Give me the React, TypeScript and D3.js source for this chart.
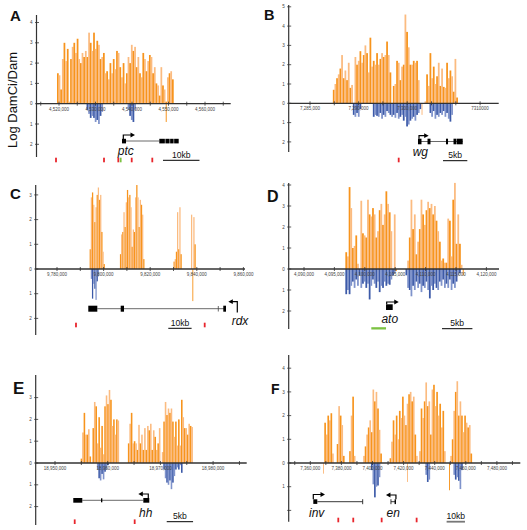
import React from "react";
import * as d3 from "d3";

const FONT = "'Liberation Sans', Arial, Helvetica, sans-serif";
const ORANGE = "#f7941d";
const PEACH = "#fbbb80";
const BLUE = "#3c5aa8";
const BLUE_L = "#7f93cb";
const RED = "#e8262d";
const GREEN = "#7cc242";
const AXIS = "#333";

type Seg = [number, number[]];
type Pt = [number, number];

// ---------------- Panel A (ptc) ----------------
const aStart = 4519450;
const aBin = 450;
const aPos = [1.5, 1.4, 0.7, 2.2, 3.0, 2.1, 2.7, 0.1, 2.2, 2.8, 3.0, 2.5, 3.2, 2.2, 2.0, 2.5, 2.3, 2.6, 2.3, 3.5, 3.0, 2.6, 3.5, 2.7, 3.1, 2.9, 2.2, 2.3, 2.5, 1.5, 1.6, 1.2, 2.0, 1.5, 2.2, 1.7, 2.6, 2.5, 1.8, 1.3, 2.0, 1.0, 1.5, 2.3, 2.0, 2.9, 2.6, 2.8, 1.8, 2.3, 1.5, 1.3, 2.5, 2.2, 1.6, 2.1, 2.4, 2.3, 1.5, 1.8, 1.0, 0.9, 0.4, 1.8, 0.9, 0.7, 0.1, 1.3, 1.5, 1.6, 1.2];
const aNeg: Seg[] = [[18, [0.3, 0.5, 0.7, 0.6, 0.7, 0.9, 0.8, 1.0, 0.6, 0.4]], [43, [0.3, 0.6, 0.8, 0.9, 0.3]]];
const aDown: Pt[] = [[66, 0.9]];
const aXLabelVals = [4520000, 4530000, 4540000, 4550000, 4560000];
const aXLabels = ["4,520,000", "4,530,000", "4,540,000", "4,550,000", "4,560,000"];
const aYTicks = [4, 3, 2, 1, 0, -1, -2];
const aExons: Pt[] = [[4537260, 4538360], [4547480, 4549000], [4549150, 4550300], [4550450, 4551400], [4551550, 4552790]];
const aSites = [4519180, 4532330, 4536250, 4539920, 4545560];
const aGreenSites = [4536900];

// ---------------- Panel B (wg) ----------------
const bStart = 7289700;
const bBin = 343;
const bPos = [0.7, 1.0, 1.3, 1.5, 1.8, 2.5, 1.3, 1.7, 1.2, 2.1, 0.8, 0.95, 0, 2.4, 2.0, 2.2, 2.7, 2.1, 2.5, 3.0, 2.6, 1.6, 3.4, 1.9, 2.2, 2.0, 2.6, 2.0, 2.3, 2.6, 2.4, 2.5, 3.2, 2.5, 1.6, 0, 0.9, 1.0, 2.2, 2.1, 1.2, 1.9, 2.0, 4.6, 3.7, 2.9, 2.0, 2.0, 2.2, 2.1, 2.2, 1.2, 0, 0, 0, 0.1, 1.5, 0.9, 2.6, 1.3, 1.9, 1.0, 1.4, 2.1, 0.9, 1.8, 0.85, 0.8, 2.1, 1.3, 1.7, 1.4, 0.6, 2.3, 0.3];
const bNeg: Seg[] = [
  [12, [0.6, 0.7, 0.5, 0.7, 0.3]],
  [24, [0.7, 0.6, 0.65, 0.7, 0.5, 0.8, 0.6, 0.7, 0.4, 0.5, 0.6, 0.7, 0.6, 0.75, 0.5, 0.8, 0.7, 0.6, 0.9, 0.7, 1.2, 1.1, 0.9, 0.8, 0.7, 0.9, 0.6, 0.5, 0.3]],
  [58, [0.5, 0.7, 0.4, 0.8, 0.6, 0.7, 0.5, 0.6, 0.4, 0.7, 0.5, 0.8, 0.95, 0.6]],
];
const bDown: Pt[] = [[53, 0.6]];
const bXLabelVals = [7285000, 7295000, 7305000, 7320000];
const bXLabels = ["7,285,000", "7,290,000", "7,300,000", "7310000"];
const bYTicks = [5, 4, 3, 2, 1, 0, -1, -2];
const bExons: Pt[] = [[7307220, 7307940], [7309180, 7309790], [7312980, 7313400], [7314530, 7315040], [7315140, 7316420]];
const bSites = [7303250];

// ---------------- Panel C (rdx) ----------------
const cStart = 9794000;
const cBin = 500;
const cPos = [
  0.8, 2.9, 3.1, 2.6, 1.9, 2.5, 3.0, 3.3, 2.8, 3.0, 1.5, 0.7, 0.2,
  0, 0, 0, 0, 0, 0, 0, 0, 0, 0, 0, 0, 0,
  0.6, 1.4, 1.5, 2.3, 1.7, 2.7, 3.2, 2.9, 3.0, 2.5, 0.9, 1.6, 1.5, 2.9, 3.4, 2.9, 1.7, 2.8, 2.6, 2.2, 0.4,
  0, 0, 0, 0, 0, 0, 0, 0, 0, 0, 0, 0, 0, 0, 0, 0, 0, 0, 0, 0, 0, 0, 0, 0, 0,
  0.3, 0.4, 0.7, 2.3, 0.8, 2.5, 0.6,
  0, 0, 0, 0, 0, 0, 0, 0,
  2.2, 0, 2.1, 1.0,
];
const cNeg: Seg[] = [[1, [0.4, 1.2, 0.6, 0.8, 1.25, 0.5, 0.3]]];
const cDown: Pt[] = [[88, 1.3]];
const cXLabelVals = [9780000, 9800000, 9820000, 9840000, 9860000];
const cXLabels = ["9,780,000", "9,800,000", "9,820,000", "9,840,000", "9,860,000"];
const cYTicks = [3, 2, 1, 0, -1, -2];
const cExons: Pt[] = [[9793430, 9797300], [9807340, 9808760], [9851370, 9852530]];
const cSites = [9788150, 9843390];

// ---------------- Panel D (ato) ----------------
const dStart = 4096800;
const dBin = 275;
const dPos = [
  0.8, 0.6, 3.9, 2.9, 1.0, 1.1, 1.6, 0.25, 0, 3.25,
  1.7, 1.6, 1.5, 3.3, 2.6, 2.5, 2.9, 2.6, 1.5, 1.8,
  2.8, 3.1, 2.1, 2.6, 3.7, 3.1, 2.7, 1.8, 0, 2.6,
  0, 0, 0, 0, 0, 0, 0, 0.4, 1.5, 3.3,
  1.9, 2.6, 0.7, 1.3, 1.9, 3.3, 2.6, 2.1, 2.8, 3.2,
  2.9, 3.1, 2.6, 3.0, 2.3, 1.8, 1.3, 0.4, 0.5, 0.3,
  0.3, 2.4, 2.3, 0.6, 3.3, 4.1, 1.2, 2.6, 1.2, 0.2, 0,
];
const dNeg: Seg[] = [
  [0, [1.2, 1.0, 1.2, 0.8, 0.6, 0.9, 0.5, 0.8, 0.3, 0.9, 0.7, 0.6, 0.9, 0.7, 1.45, 0.8, 0.5, 0.7, 0.9, 0.6, 1.1, 0.8, 0.9, 0.6, 0.8, 0.7, 0.75, 0.5, 0.3, 0.2]],
  [36, [0.3, 0.9, 1.0, 1.3, 0.8, 1.0, 0.6, 0.9, 0.7, 1.1, 0.8, 0.9, 0.6, 1.0, 1.4, 0.8, 1.0, 0.7, 0.9, 1.0, 0.6, 0.8, 0.5, 0.9, 0.7, 0.9, 0.5, 1.0, 0.7, 0.9, 0.6, 0.3, 0.2]],
];
const dDown: Pt[] = [[30, 0.1], [70, 0.3]];
const dXLabelVals = [4090000, 4095000, 4100000, 4105000, 4110000, 4115000, 4120000];
const dXLabels = ["4,090,000", "4,095,000", "4,100,000", "4,105,000", "4,110,000", "4,115,000", "4,120,000"];
const dYTicks = [4, 3, 2, 1, 0, -1, -2];
const dExons: Pt[] = [[4103490, 4104590]];
const dEnhancer: Pt = [4101070, 4103490];

// ---------------- Panel E (hh) ----------------
const eStart = 18954870;
const eBin = 280;
const ePos = [
  0.2, 1.4, 2.3, 1.3, 1.3, 1.55, 0.3, 0, 1.6, 2.8,
  2.6, 0.9, 2.1, 0.7, 1.7, 0.4, 2.6, 3.1, 2.7, 3.35,
  2.9, 1.7, 2.0, 1.3, 2.0, 1.95, 0, 0, 0, 0,
  0, 0, 0.9, 1.8, 2.3, 0.9, 1.0, 0.9, 0.6, 1.75,
  0.9, 1.3, 0.6, 1.6, 0.6, 1.7, 1.5, 1.8, 0.6, 1.5,
  1.2, 0.6, 0.9, 1.6, 0, 0.5, 1.9, 2.8, 2.2, 2.5,
  2.3, 2.5, 1.9, 1.2, 1.9, 0.8, 2.0, 0.8, 2.9, 2.1,
  1.6, 1.6, 1.3, 1.8, 1.7, 1.65,
];
const eNeg: Seg[] = [[11, [0.3, 0.7, 0.8, 0.5, 0.75, 0.4, 0.3, 0.1]], [56, [0.3, 0.7, 0.9, 1.0, 0.8, 1.2, 0.9, 0.6, 0.3, 0.2, 0.3, 0.1, 0.45]]];
const eDown: Pt[] = [];
const eXLabelVals = [18950000, 18960000, 18970000, 18980000];
const eXLabels = ["18,950,000", "18,960,000", "18,970,000", "18,980,000"];
const eYTicks = [3, 2, 1, 0, -1, -2];
const eExons: Pt[] = [[18953470, 18955180], [18958730, 18958980], [18966760, 18967890]];
const eSites = [18953740, 18965120];

// ---------------- Panel F (inv / en) ----------------
const fStart = 7367000;
const fBin = 1000;
const fPos = [
  0, 0, 1.7, 1.2, 2.0, 1.8, 2.1, 0.4, 0, 0,
  0.8, 2.4, 2.0, 1.6, 0.3, 0, 0, 0, 0.5, 2.0,
  2.8, 0.3, 0, 0, 0, 0, 0, 0.3, 0.7, 1.2,
  1.5, 1.8, 1.3, 3.1, 2.6, 3.0, 2.3, 1.4, 0.4, 0,
  0, 0, 0, 0, 0.2, 0.9, 1.8, 1.2, 2.0, 1.0,
  2.2, 1.9, 2.8, 2.0, 1.6, 2.5, 2.9, 3.0, 2.6, 2.8,
  1.2, 0.3, 0, 0.5, 2.3, 1.9, 2.6, 3.4, 2.4, 2.6,
  1.2, 3.1, 3.3, 2.4, 3.0, 2.0, 2.5, 1.5, 2.2, 0.5,
  0, 0, 0, 0.3, 1.0, 2.2, 3.0, 3.45, 2.0, 2.6,
  2.0, 1.3, 2.0, 1.7, 1.5, 1.6, 0.4,
];
const fNeg: Seg[] = [[32, [0.3, 0.9, 1.45, 1.0, 0.95, 0.6]], [67, [0.5, 0.8, 0.7]], [85, [0.5, 0.7, 0.6, 0.75, 1.1, 0.3]]];
const fDown: Pt[] = [[1, 0.45], [55, 0.8], [82, 1.15]];
const fXLabelVals = [7360000, 7380000, 7400000, 7420000, 7440000, 7460000, 7480000];
const fXLabels = ["7,360,000", "7,380,000", "7,400,000", "7,420,000", "7,440,000", "7,460,000", "7,480,000"];
const fYTicks = [4, 3, 2, 1, 0, -1, -2];
const fYHidden = [-2];
const fInvExon: Pt = [7361930, 7364500];
const fEnSpan: Pt = [7411860, 7415080];
const fSites = [7378000, 7387630, 7405890, 7428380];

interface PanelSpec {
  letter: string;
  letterX: number;
  letterY: number;
  letterSize: number;
  axisX: number;
  xLeft: number;
  xRight: number;
  yTop: number;
  yBottom: number;
  zeroY: number;
  unit: number;
  xDom: [number, number];
  xRng: [number, number];
  start: number;
  bin: number;
  pos: number[];
  neg: Seg[];
  down: Pt[];
  minor: number[];
  labelVals: number[];
  labels: string[];
  yTicks: number[];
  yHidden?: number[];
  extras: (xs: d3.ScaleLinear<number, number>) => React.ReactNode;
}

function Tss({ x0, x1, yb, yt }: { x0: number; x1: number; yb: number; yt: number }) {
  const dir = x1 > x0 ? 1 : -1;
  return (
    <g>
      <path d={`M${x0},${yb}V${yt}H${x1 - dir * 3}`} stroke="#000" strokeWidth={1.2} fill="none" />
      <path d={`M${x1},${yt}L${x1 - dir * 4.5},${yt - 2.4}L${x1 - dir * 4.5},${yt + 2.4}Z`} fill="#000" />
    </g>
  );
}

function Sites({ xs, vals, y, color }: { xs: d3.ScaleLinear<number, number>; vals: number[]; y: number; color: string }) {
  return (
    <g>
      {vals.map((v, i) => (
        <rect key={i} x={xs(v) - 0.9} y={y - 2.3} width={1.8} height={4.6} fill={color} />
      ))}
    </g>
  );
}

function ScaleBar({ xs, start, len, y, label, color = "#000", w = 1 }: { xs: d3.ScaleLinear<number, number>; start: number; len: number; y: number; label: string; color?: string; w?: number }) {
  const x0 = xs(start);
  const x1 = xs(start + len);
  return (
    <g>
      <line x1={x0} x2={x1} y1={y} y2={y} stroke={color} strokeWidth={w} />
      <text x={(x0 + x1) / 2} y={y - 2.6} fontSize={8.6} textAnchor="middle" fontFamily={FONT} fill="#111">
        {label}
      </text>
    </g>
  );
}

function GeneLabel({ x, y, text }: { x: number; y: number; text: string }) {
  return (
    <text x={x} y={y} fontSize={12} fontStyle="italic" textAnchor="middle" fontFamily={FONT} fill="#111">
      {text}
    </text>
  );
}

function Panel({ p }: { p: PanelSpec }) {
  const xs = d3.scaleLinear().domain(p.xDom).range(p.xRng);
  const ys = d3.scaleLinear().domain([0, 1]).range([p.zeroY, p.zeroY - p.unit]);
  const bw = xs(p.start + p.bin) - xs(p.start);
  const bars: React.ReactNode[] = [];
  p.neg.forEach(([s, vals]) =>
    vals.forEach((v, j) => {
      const i = s + j;
      if (v <= 0) return;
      bars.push(
        <rect key={`n${i}`} x={xs(p.start + i * p.bin)} y={ys(0)} width={bw + 0.1} height={ys(-v) - ys(0)} fill={i % 2 ? BLUE_L : BLUE} />
      );
    })
  );
  p.pos.forEach((v, i) => {
    if (v <= 0) return;
    bars.push(
      <rect key={`p${i}`} x={xs(p.start + i * p.bin)} y={ys(v)} width={bw + 0.1} height={ys(0) - ys(v)} fill={i % 2 ? PEACH : ORANGE} />
    );
  });
  p.down.forEach(([i, v]) => {
    bars.push(
      <rect key={`d${i}`} x={xs(p.start + i * p.bin) + bw * 0.2} y={ys(0)} width={Math.max(bw * 0.6, 0.9)} height={ys(-v) - ys(0)} fill={i % 2 ? PEACH : ORANGE} />
    );
  });
  const hidden = p.yHidden || [];
  return (
    <g>
      <text x={p.letterX} y={p.letterY} fontSize={p.letterSize} fontWeight="bold" fontFamily={FONT} fill="#111">
        {p.letter}
      </text>
      {bars}
      {/* y axis */}
      <line x1={p.axisX} x2={p.axisX} y1={p.yTop} y2={p.yBottom} stroke={AXIS} strokeWidth={1.2} />
      {p.yTicks.map((t) => (
        <g key={`yt${t}`}>
          <line x1={p.axisX - 1.5} x2={p.axisX + 2.5} y1={ys(t)} y2={ys(t)} stroke={AXIS} strokeWidth={0.8} />
          {hidden.includes(t) ? null : (
            <text x={p.axisX - 4} y={ys(t) + 1.6} fontSize={4.6} textAnchor="end" fontFamily={FONT} fill="#444">
              {Math.abs(t)}
            </text>
          )}
        </g>
      ))}
      {/* x axis */}
      <line x1={p.xLeft} x2={p.xRight} y1={p.zeroY} y2={p.zeroY} stroke={AXIS} strokeWidth={1.3} />
      {p.minor.map((t) => (
        <line key={`xm${t}`} x1={xs(t)} x2={xs(t)} y1={p.zeroY - 2} y2={p.zeroY + 2} stroke={AXIS} strokeWidth={0.8} />
      ))}
      {p.labelVals.map((t, i) => (
        <text key={`xl${t}`} x={xs(t)} y={p.zeroY + 6.8} fontSize={4.5} textAnchor="middle" fontFamily={FONT} fill="#444">
          {p.labels[i]}
        </text>
      ))}
      {p.extras(xs)}
    </g>
  );
}

const panels: PanelSpec[] = [
  {
    letter: "A", letterX: 10, letterY: 20.7, letterSize: 15,
    axisX: 36.5, xLeft: 36.5, xRight: 230.7, yTop: 15, yBottom: 157, zeroY: 103.7, unit: 20.3,
    xDom: [4520000, 4530000], xRng: [59, 95.5],
    start: aStart, bin: aBin, pos: aPos, neg: aNeg, down: aDown,
    minor: d3.range(4515000, 4566000, 5000), labelVals: aXLabelVals, labels: aXLabels, yTicks: aYTicks,
    extras: (xs) => (
      <g>
        <line x1={xs(4538360)} x2={xs(4547480)} y1={141} y2={141} stroke="#444" strokeWidth={0.8} />
        {aExons.map(([s, e], i) => (
          <rect key={i} x={xs(s)} y={138.8} width={xs(e) - xs(s)} height={4.6} fill="#000" />
        ))}
        <Tss x0={xs(4537620)} x1={xs(4540820)} yb={139} yt={135} />
        <GeneLabel x={xs(4538300)} y={155} text="ptc" />
        <Sites xs={xs} vals={aSites} y={160} color={RED} />
        <Sites xs={xs} vals={aGreenSites} y={160} color={GREEN} />
        <ScaleBar xs={xs} start={4548490} len={10000} y={160.3} label="10kb" />
      </g>
    ),
  },
  {
    letter: "B", letterX: 264, letterY: 20, letterSize: 14.5,
    axisX: 288.7, xLeft: 288.7, xRight: 498.7, yTop: 5, yBottom: 152, zeroY: 103.3, unit: 19.3,
    xDom: [7285000, 7290000], xRng: [310, 334.3],
    start: bStart, bin: bBin, pos: bPos, neg: bNeg, down: bDown,
    minor: d3.range(7285000, 7321000, 5000), labelVals: bXLabelVals, labels: bXLabels, yTicks: bYTicks,
    extras: (xs) => (
      <g>
        <line x1={xs(7307220)} x2={xs(7316420)} y1={141.5} y2={141.5} stroke="#444" strokeWidth={0.8} />
        {bExons.map(([s, e], i) => (
          <rect key={i} x={xs(s)} y={138.7} width={xs(e) - xs(s)} height={5.6} fill="#000" />
        ))}
        <Tss x0={xs(7307430)} x1={xs(7309420)} yb={138.7} yt={135.7} />
        <GeneLabel x={xs(7307700)} y={156} text="wg" />
        <Sites xs={xs} vals={bSites} y={160} color={RED} />
        <ScaleBar xs={xs} start={7312370} len={5000} y={160.7} label="5kb" />
      </g>
    ),
  },
  {
    letter: "C", letterX: 10, letterY: 199, letterSize: 15,
    axisX: 35.7, xLeft: 35.7, xRight: 245, yTop: 185, yBottom: 335, zeroY: 269, unit: 24.7,
    xDom: [9780000, 9790000], xRng: [57, 80.3],
    start: cStart, bin: cBin, pos: cPos, neg: cNeg, down: cDown,
    minor: d3.range(9780000, 9861000, 10000), labelVals: cXLabelVals, labels: cXLabels, yTicks: cYTicks,
    extras: (xs) => (
      <g>
        <line x1={xs(9797300)} x2={xs(9852530)} y1={308.7} y2={308.7} stroke="#444" strokeWidth={0.8} />
        {cExons.map(([s, e], i) => (
          <rect key={i} x={xs(s)} y={305.7} width={xs(e) - xs(s)} height={6} fill="#000" />
        ))}
        <line x1={xs(9849230)} x2={xs(9849230)} y1={306} y2={311.5} stroke="#444" strokeWidth={0.8} />
        <Tss x0={xs(9857380)} x1={xs(9853520)} yb={312.5} yt={301.7} />
        <GeneLabel x={xs(9858540)} y={324.5} text="rdx" />
        <Sites xs={xs} vals={cSites} y={325} color={RED} />
        <ScaleBar xs={xs} start={9827770} len={10000} y={328.3} label="10kb" />
      </g>
    ),
  },
  {
    letter: "D", letterX: 267, letterY: 202, letterSize: 16,
    axisX: 288.7, xLeft: 288.7, xRight: 499, yTop: 183, yBottom: 329, zeroY: 269, unit: 21,
    xDom: [4090000, 4095000], xRng: [304, 334.4],
    start: dStart, bin: dBin, pos: dPos, neg: dNeg, down: dDown,
    minor: d3.range(4090000, 4121000, 5000), labelVals: dXLabelVals, labels: dXLabels, yTicks: dYTicks,
    extras: (xs) => (
      <g>
        {dExons.map(([s, e], i) => (
          <rect key={i} x={xs(s)} y={304.3} width={xs(e) - xs(s)} height={5.7} fill="#000" />
        ))}
        <Tss x0={xs(4103600)} x1={xs(4105580)} yb={304.3} yt={302} />
        <GeneLabel x={xs(4104100)} y={323} text="ato" />
        <rect x={xs(dEnhancer[0])} y={327.2} width={xs(dEnhancer[1]) - xs(dEnhancer[0])} height={2.3} fill={GREEN} />
        <ScaleBar xs={xs} start={4112700} len={5000} y={328.7} label="5kb" />
      </g>
    ),
  },
  {
    letter: "E", letterX: 13, letterY: 394.3, letterSize: 17,
    axisX: 35.7, xLeft: 35.7, xRight: 246.7, yTop: 375, yBottom: 525, zeroY: 463, unit: 21.8,
    xDom: [18950000, 18960000], xRng: [55, 107.7],
    start: eStart, bin: eBin, pos: ePos, neg: eNeg, down: eDown,
    minor: d3.range(18950000, 18986000, 5000), labelVals: eXLabelVals, labels: eXLabels, yTicks: eYTicks,
    extras: (xs) => (
      <g>
        <line x1={xs(18955180)} x2={xs(18966760)} y1={500.3} y2={500.3} stroke="#444" strokeWidth={0.8} />
        {eExons.map(([s, e], i) => (
          <rect key={i} x={xs(s)} y={i === 1 ? 498.3 : 498} width={xs(e) - xs(s)} height={i === 1 ? 4 : 4.7} fill="#000" />
        ))}
        <Tss x0={xs(18967700)} x1={xs(18965810)} yb={498} yt={494} />
        <GeneLabel x={xs(18967210)} y={517} text="hh" />
        <Sites xs={xs} vals={eSites} y={521.7} color={RED} />
        <ScaleBar xs={xs} start={18971200} len={5000} y={521.7} label="5kb" />
      </g>
    ),
  },
  {
    letter: "F", letterX: 271, letterY: 394, letterSize: 14,
    axisX: 288.7, xLeft: 288.7, xRight: 520.3, yTop: 355, yBottom: 521.7, zeroY: 463, unit: 23.7,
    xDom: [7360000, 7380000], xRng: [310.3, 341.4],
    start: fStart, bin: fBin, pos: fPos, neg: fNeg, down: fDown,
    minor: d3.range(7350000, 7491000, 10000), labelVals: fXLabelVals, labels: fXLabels, yTicks: fYTicks, yHidden: fYHidden,
    extras: (xs) => (
      <g>
        <rect x={xs(fInvExon[0])} y={499.3} width={xs(fInvExon[1]) - xs(fInvExon[0])} height={4.6} fill="#000" />
        <line x1={xs(fInvExon[1])} x2={xs(7393680)} y1={501.7} y2={501.7} stroke="#222" strokeWidth={0.9} />
        <line x1={xs(7393680)} x2={xs(7393680)} y1={499.2} y2={504.2} stroke="#222" strokeWidth={0.9} />
        <Tss x0={xs(fInvExon[0])} x1={xs(7369450)} yb={499.3} yt={494.5} />
        <GeneLabel x={xs(7364110)} y={517} text="inv" />
        <line x1={xs(fEnSpan[0])} x2={xs(fEnSpan[1])} y1={501.7} y2={501.7} stroke="#222" strokeWidth={0.9} />
        <line x1={xs(fEnSpan[0])} x2={xs(fEnSpan[0])} y1={499.2} y2={504.2} stroke="#222" strokeWidth={0.9} />
        <rect x={xs(7414200)} y={499.3} width={xs(fEnSpan[1]) - xs(7414200)} height={4.8} fill="#000" />
        <Tss x0={xs(fEnSpan[1])} x1={xs(7408650)} yb={499.3} yt={495} />
        <GeneLabel x={xs(7413340)} y={517} text="en" />
        <Sites xs={xs} vals={fSites} y={520} color={RED} />
        <ScaleBar xs={xs} start={7447660} len={11800} y={521.7} label="10kb" color="#777" w={1.8} />
      </g>
    ),
  },
];

export default function App() {
  return (
    <svg
      width={527}
      height={530}
      viewBox="0 0 527 530"
      style={{ position: "absolute", left: 0, top: 0, background: "#fff" }}
    >
      <rect x={0} y={0} width={527} height={530} fill="#fff" />
      <text transform="translate(16.5,100) rotate(-90)" fontSize={13} textAnchor="middle" fontFamily={FONT} fill="#111">
        Log DamCi/Dam
      </text>
      {panels.map((p) => (
        <Panel key={p.letter} p={p} />
      ))}
    </svg>
  );
}
